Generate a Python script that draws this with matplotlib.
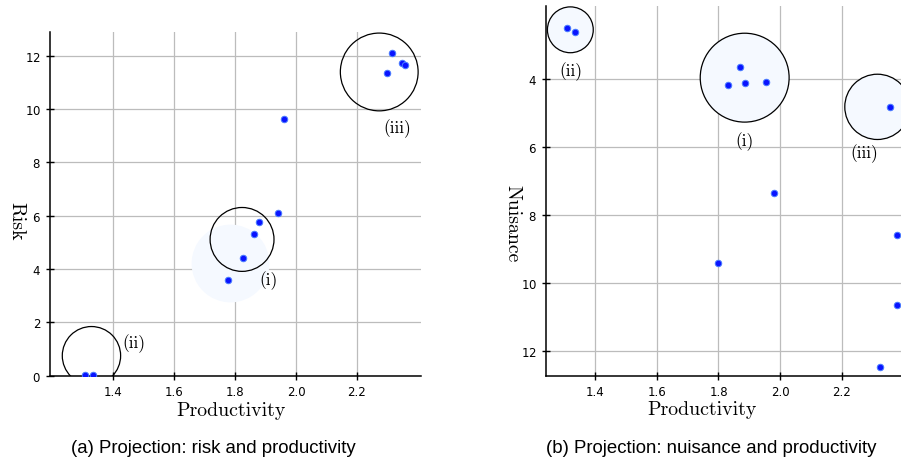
import matplotlib
matplotlib.use("Agg")
import matplotlib.pyplot as plt

# ── panel (a): risk vs productivity ───────────────────────────────────────────
prod_a = [1.309, 1.333, 1.777, 1.825, 1.863, 1.877, 1.942, 1.962,
          2.300, 2.315, 2.348, 2.356]
risk_a = [0.04, 0.04, 3.60, 4.42, 5.31, 5.76, 6.10, 9.61,
          11.34, 12.11, 11.73, 11.66]

# cluster circles: centre (data), radius (pt), label, label position (data)
clu_a_x = [1.823, 1.329, 2.273]
clu_a_y = [5.11, 0.75, 11.39]
clu_a_r = [23.0, 21.0, 28.0]
clu_a_lab = ["(i)", "(ii)", "(iii)"]
clu_a_lx = [1.910, 1.469, 2.333]
clu_a_ly = [3.60, 1.23, 9.32]
halo_a = (1.784, 4.24, 28.0)

# ── panel (b): nuisance vs productivity ───────────────────────────────────────
prod_b = [1.309, 1.335, 1.869, 1.832, 1.886, 1.953, 2.356, 1.981,
          2.380, 1.798, 2.380, 2.325]
nuis_b = [2.49, 2.61, 3.63, 4.16, 4.12, 4.07, 4.81, 7.35,
          8.59, 9.41, 10.64, 12.46]

clu_b_x = [1.885, 1.319, 2.316]
clu_b_y = [3.95, 2.54, 4.81]
clu_b_r = [32.0, 16.5, 23.5]
clu_b_lab = ["(i)", "(ii)", "(iii)"]
clu_b_lx = [1.885, 1.320, 2.273]
clu_b_ly = [5.80, 3.75, 6.15]

SERIF = "cmr10"
DOT = "#0a14ff"
FILL = "#f5f9ff"

plt.rcParams["axes.formatter.use_mathtext"] = True
fig = plt.figure(figsize=(9.01, 4.64), dpi=100)


def style(ax, xlab, ylab, xlab_pos, ylab_pos):
    ax.grid(True, color="#bcbcbc", lw=0.9)
    ax.set_axisbelow(True)
    for s in ("top", "right"):
        ax.spines[s].set_visible(False)
    for s in ("left", "bottom"):
        ax.spines[s].set_linewidth(1.1)
    ax.tick_params(direction="inout", length=6, width=1.0, labelsize=8.5)
    ax.set_xticks([1.4, 1.6, 1.8, 2.0, 2.2])
    ax.set_xticklabels(["1.4", "1.6", "1.8", "2.0", "2.2"])
    ax.set_xlabel(xlab, family=SERIF, fontsize=14.3, va="center")
    ax.xaxis.set_label_coords(*xlab_pos)
    ax.set_ylabel(ylab, family=SERIF, fontsize=14.3, rotation=270,
                  va="center", ha="center")
    ax.yaxis.set_label_coords(*ylab_pos)


# (a)
ax1 = fig.add_axes([50 / 901, 1 - 376.7 / 464, 371 / 901, 344 / 464])
style(ax1, "Productivity", "Risk", (0.488, -0.10), (-0.092, 0.453))
ax1.set_xlim(1.193, 2.410)
ax1.set_ylim(0, 12.9)
ax1.set_yticks(range(0, 13, 2))
ax1.scatter([halo_a[0]], [halo_a[1]], s=(2 * halo_a[2]) ** 2,
            color=FILL, lw=0, zorder=1.5)
ax1.scatter(clu_a_x, clu_a_y, s=[(2 * r) ** 2 for r in clu_a_r],
            facecolors="none", edgecolors="black", lw=0.9, zorder=2)
ax1.scatter(prod_a, risk_a, s=22, color=DOT, edgecolors="#4a7dff",
            lw=0.7, zorder=3)
for lab, lx, ly in zip(clu_a_lab, clu_a_lx, clu_a_ly):
    ax1.text(lx, ly, lab, family=SERIF, fontsize=12.5, ha="center", va="center")

# (b)
ax2 = fig.add_axes([545.7 / 901, 1 - 376.7 / 464, 373 / 901, 370 / 464])
style(ax2, "Productivity", "Nuisance", (0.42, -0.091), (-0.090, 0.413))
ax2.set_xlim(1.239, 2.450)
ax2.set_ylim(12.73, 1.83)
ax2.set_yticks([4, 6, 8, 10, 12])
ax2.scatter(clu_b_x, clu_b_y, s=[(2 * r) ** 2 for r in clu_b_r],
            facecolors=FILL, edgecolors="black", lw=0.9, zorder=2)
ax2.scatter(prod_b, nuis_b, s=22, color=DOT, edgecolors="#4a7dff",
            lw=0.7, zorder=3)
for lab, lx, ly in zip(clu_b_lab, clu_b_lx, clu_b_ly):
    ax2.text(lx, ly, lab, family=SERIF, fontsize=12.5, ha="center", va="center")

fig.text(213 / 901, 1 - 449 / 464, "(a) Projection: risk and productivity",
         family="Liberation Sans", fontsize=13.4, ha="center", va="center")
fig.text(711 / 901, 1 - 449 / 464, "(b) Projection: nuisance and productivity",
         family="Liberation Sans", fontsize=13.4, ha="center", va="center")

fig.savefig("out.png", dpi=100)
